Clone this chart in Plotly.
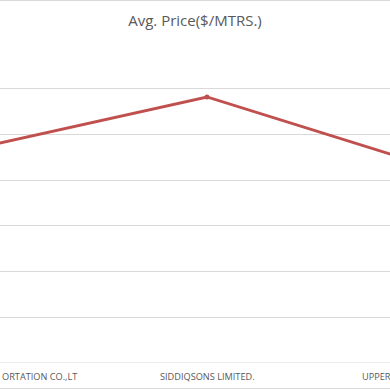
import plotly.graph_objects as go

categories = ["ORTATION CO.,LT", "SIDDIQSONS LIMITED.", "UPPER"]
avg_price = [4.70, 5.82, 4.25]
title_text = "Avg. Price($/MTRS.)"
y_ticks = [0, 1, 2, 3, 4, 5, 6, 7]

W = H = 390
fig = go.Figure()
fig.add_trace(go.Scatter(
    x=[0, 1, 2], y=avg_price, mode="lines+markers",
    line=dict(color="#C0504D", width=3),
    marker=dict(color="#C0504D", size=5),
    hoverinfo="skip", showlegend=False,
))

# plot area: x pixels 0..390, y pixels 43..363
fig.update_layout(
    width=W, height=H,
    margin=dict(l=0, r=0, t=43, b=27),
    paper_bgcolor="white", plot_bgcolor="white",
    title=dict(text=title_text, x=0.5, xanchor="center", y=1 - 21/H, yanchor="middle",
               font=dict(family="Open Sans", size=15, color="#595959")),
    xaxis=dict(range=[1 - 207/230, 1 + 183/230], showgrid=False, zeroline=False,
               showticklabels=False, ticks="", showline=False, fixedrange=True),
    yaxis=dict(range=[0, 7], tickvals=y_ticks, showgrid=True, gridcolor="#D9D9D9",
               gridwidth=1, zeroline=False, showticklabels=False, ticks="",
               showline=False, fixedrange=True),
)

# category axis baseline and chart border lines
fig.add_shape(type="line", xref="paper", yref="y", x0=0, x1=1, y0=0, y1=0,
              line=dict(color="#D9D9D9", width=1))
fig.add_shape(type="line", xref="paper", yref="paper", x0=0, x1=1,
              y0=1 + 42.5/320, y1=1 + 42.5/320, line=dict(color="#D9D9D9", width=1))
fig.add_shape(type="line", xref="paper", yref="paper", x0=0, x1=1,
              y0=-25.5/320, y1=-25.5/320, line=dict(color="#D9D9D9", width=1))

lab_font = dict(family="Open Sans", size=9.2, color="#595959")
label_y = -13/320
fig.add_annotation(text=categories[0], xref="paper", yref="paper", x=0, y=label_y,
                   xanchor="left", yanchor="middle", showarrow=False, font=lab_font)
fig.add_annotation(text=categories[1], xref="x", yref="paper", x=1, y=label_y,
                   xanchor="center", yanchor="middle", showarrow=False, font=lab_font)
fig.add_annotation(text=categories[2], xref="paper", yref="paper", x=360/W, y=label_y,
                   xanchor="left", yanchor="middle", showarrow=False, font=lab_font)

fig.write_html("out.html", config={"displayModeBar": False},
               post_script="document.body.style.margin='0';document.body.style.overflow='hidden';")
